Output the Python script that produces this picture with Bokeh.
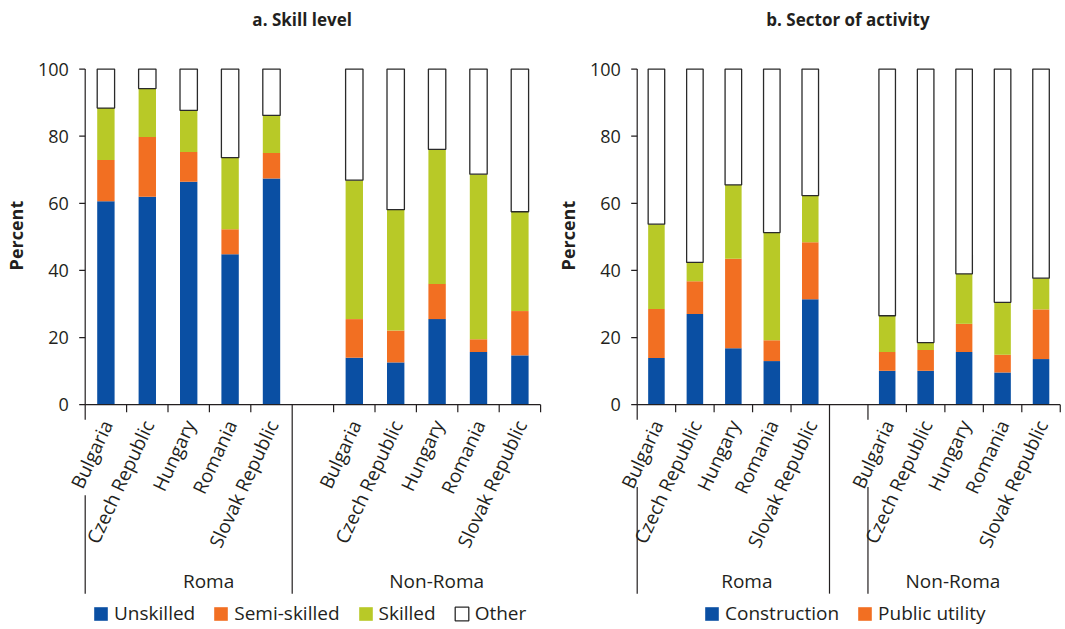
import numpy as np
from bokeh.plotting import figure
from bokeh.layouts import row
from bokeh.models import Range1d, ColumnDataSource, Legend, LegendItem
from bokeh.core.properties import value
from bokeh.embed import file_html
from bokeh.resources import INLINE

# ---------------- data ----------------
countries = ["Bulgaria", "Czech Republic", "Hungary", "Romania", "Slovak Republic"]
groups = ["Roma", "Non-Roma"]

# Panel a: skill level (Roma x5, then Non-Roma x5), percent of each bar
skill_unskilled = [60.6, 62.0, 66.4, 44.8, 67.4, 14.0, 12.6, 25.5, 15.7, 14.7]
skill_semi = [12.3, 17.8, 8.9, 7.5, 7.6, 11.5, 9.5, 10.5, 3.8, 13.2]
skill_skilled = [15.5, 14.4, 12.4, 21.3, 11.2, 41.4, 36.0, 40.1, 49.2, 29.6]
skill_other = [11.6, 5.8, 12.3, 26.4, 13.8, 33.1, 41.9, 23.9, 31.3, 42.5]
skill_labels = ["Unskilled", "Semi-skilled", "Skilled", "Other"]

# Panel b: sector of activity
sector_construction = [13.9, 27.0, 16.8, 13.0, 31.4, 10.1, 10.1, 15.7, 9.6, 13.6]
sector_public = [14.6, 9.8, 26.7, 6.2, 17.0, 5.6, 6.2, 8.4, 5.3, 14.8]
sector_third = [25.3, 5.6, 22.0, 32.1, 13.9, 10.8, 2.2, 14.9, 15.6, 9.3]
sector_other = [46.2, 57.6, 34.5, 48.7, 37.7, 73.5, 81.5, 61.0, 69.5, 62.3]
sector_labels = ["Construction", "Public utility"]

y_ticks = [0, 20, 40, 60, 80, 100]
y_axis_title = "Percent"

# ---------------- styling ----------------
BLUE = "#0a4fa3"
ORANGE = "#f26f22"
GREEN = "#b8c927"
WHITE = "#ffffff"
INK = "#231f20"
FONT = "Open Sans"
COLORS = [BLUE, ORANGE, GREEN, WHITE]

slots = [0, 1, 2, 3, 4, 6, 7, 8, 9, 10]
x_centers = [s + 0.5 for s in slots]
n_slots = 11
FIG_H = 626
Y_TOP, Y_BOT = 120.44, -66.09          # y range so that 100 -> 68.6px, 0 -> 404px
PX_Y = FIG_H / (Y_TOP - Y_BOT)


def panel(title, stacks, names, n_legend, fig_w, axis_px, slot_px, title_x,
          group_x, bracket_tops, legend_x, bar_w):
    x_start = -axis_px / slot_px
    x_end = (fig_w - axis_px) / slot_px
    p = figure(width=fig_w, height=FIG_H,
               x_range=Range1d(x_start, x_end),
               y_range=Range1d(Y_BOT, Y_TOP),
               output_backend="svg", toolbar_location=None,
               x_axis_location=None, y_axis_location=None,
               min_border_left=0, min_border_right=0,
               min_border_top=0, min_border_bottom=0)
    p.outline_line_color = None
    p.xgrid.visible = False
    p.ygrid.visible = False
    p.background_fill_color = None
    p.border_fill_color = None

    keys = ["s0", "s1", "s2", "s3"]
    data = {"x": x_centers}
    for k, s in zip(keys, stacks):
        data[k] = s
    src = ColumnDataSource(data)
    rs = p.vbar_stack(keys, x="x", width=bar_w, source=src,
                      fill_color=COLORS,
                      line_color=[None, None, None, "#2a2a2a"],
                      line_width=[0, 0, 0, 1.3])

    # ---- y axis (line, ticks, labels, title) ----
    tick_len = 6 / slot_px
    x0 = [0] + [0] * len(y_ticks)
    y0 = [100] + y_ticks
    x1 = [0] + [-tick_len] * len(y_ticks)
    y1 = [-4.5] + y_ticks
    # ---- x axis line, slot ticks, group brackets ----
    x0.append(0); y0.append(0); x1.append(n_slots); y1.append(0)
    short = 7.5 / PX_Y
    for k in range(1, n_slots + 1):
        if k == 5 or (k == 6 and 6 in bracket_tops):
            continue
        x0.append(k); y0.append(0); x1.append(k); y1.append(-short)
    x0.append(5); y0.append(0); x1.append(5); y1.append(-56.3)
    for k, top in bracket_tops.items():
        if k != 0:
            x0.append(k); y0.append(0); x1.append(k); y1.append(-4.5)
        x0.append(k); y0.append(top); x1.append(k); y1.append(-56.3)
    p.segment(x0=x0, y0=y0, x1=x1, y1=y1, line_color=INK, line_width=1.2)

    p.text(x=[-16.4 / slot_px] * len(y_ticks), y=y_ticks,
           text=[str(t) for t in y_ticks],
           text_align="right", text_baseline="middle",
           text_font=value(FONT), text_font_size="18px", text_color=INK)
    p.text(x=[-69 / slot_px], y=[50.4], text=[y_axis_title], angle=np.pi / 2,
           text_align="center", text_baseline="middle",
           text_font=value(FONT), text_font_size="18px",
           text_font_style="bold", text_color=INK)

    # country labels
    lab_src = ColumnDataSource(dict(x=[c + 0.03 for c in x_centers],
                                    y=[-5.0] * len(x_centers),
                                    text=countries * 2))
    p.text(x="x", y="y", text="text", source=lab_src, angle=np.deg2rad(65),
           text_align="right", text_baseline="middle",
           text_font=value(FONT), text_font_size="19px", text_color=INK)

    # group labels
    p.text(x=group_x, y=[-52.4, -52.4], text=groups,
           text_align="center", text_baseline="middle",
           text_font=value(FONT), text_font_size="19px", text_color=INK)

    # title
    p.text(x=[title_x], y=[114.7], text=[title],
           text_align="center", text_baseline="middle",
           text_font=value(FONT), text_font_size="17px",
           text_font_style="bold", text_color=INK)

    items = [LegendItem(label=names[i], renderers=[rs[i]]) for i in range(n_legend)]
    leg = Legend(items=items, location=(legend_x, 0), orientation="horizontal",
                 glyph_width=17, glyph_height=17, label_height=17,
                 label_standoff=5, spacing=17, padding=0, margin=0,
                 border_line_color=None, background_fill_alpha=0,
                 label_text_font=FONT, label_text_font_size="19px",
                 label_text_color=INK)
    p.add_layout(leg)
    return p


LEFT_W = 543

pa = panel("a. Skill level",
           [skill_unskilled, skill_semi, skill_skilled, skill_other],
           skill_labels, 4, fig_w=LEFT_W, axis_px=84.7, slot_px=41.4,
           title_x=5.24, group_x=[2.98, 8.49],
           bracket_tops={0: -27.0}, legend_x=92, bar_w=0.42)

pb = panel("b. Sector of activity",
           [sector_construction, sector_public, sector_third, sector_other],
           sector_labels, 2, fig_w=1063 - LEFT_W, axis_px=636.7 - LEFT_W,
           slot_px=38.46, title_x=5.48, group_x=[2.85, 8.21],
           bracket_tops={0: -24.5, 6: -24.5}, legend_x=706 - LEFT_W - 3,
           bar_w=0.43)

layout = row(pa, pb)
open("out.html", "w").write(file_html(layout, INLINE))
